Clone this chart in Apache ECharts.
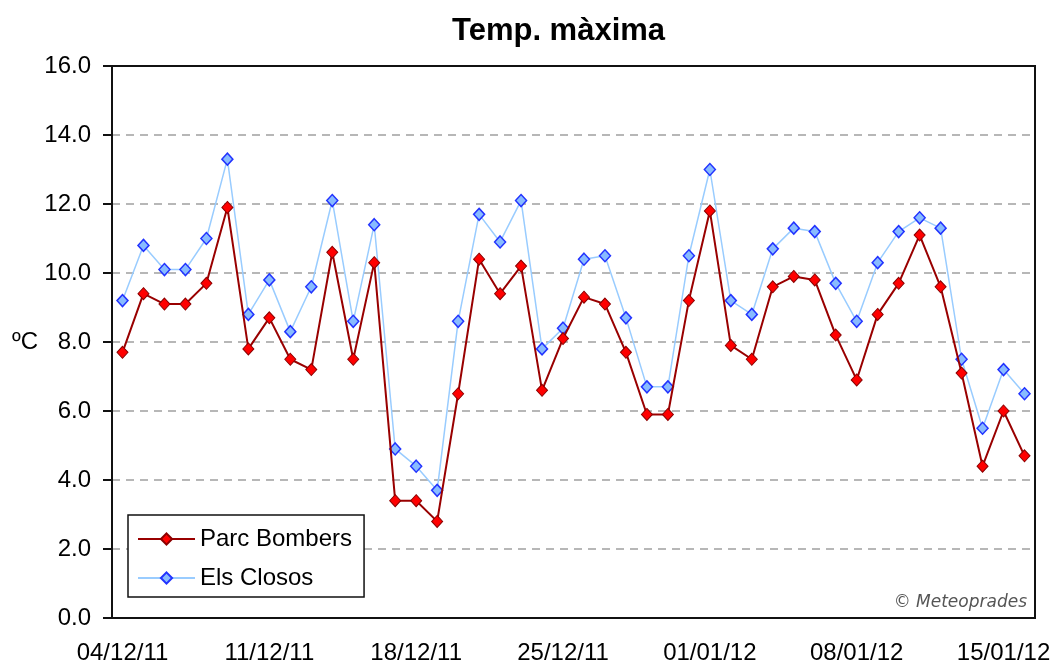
<!DOCTYPE html>
<html>
<head>
<meta charset="utf-8">
<script src="https://cdn.jsdelivr.net/npm/echarts@6/dist/echarts.min.js"></script>
<style>
  html, body { margin: 0; padding: 0; background: #fff; }
  #chart { width: 1055px; height: 665px; }
</style>
</head>
<body>
<div id="chart"></div>
<script>
// days from 04/12/11 to 16/01/12
const dates = [
    '04/12/11', '05/12/11', '06/12/11', '07/12/11', '08/12/11', '09/12/11', '10/12/11',
    '11/12/11', '12/12/11', '13/12/11', '14/12/11', '15/12/11', '16/12/11', '17/12/11',
    '18/12/11', '19/12/11', '20/12/11', '21/12/11', '22/12/11', '23/12/11', '24/12/11',
    '25/12/11', '26/12/11', '27/12/11', '28/12/11', '29/12/11', '30/12/11', '31/12/11',
    '01/01/12', '02/01/12', '03/01/12', '04/01/12', '05/01/12', '06/01/12', '07/01/12',
    '08/01/12', '09/01/12', '10/01/12', '11/01/12', '12/01/12', '13/01/12', '14/01/12',
    '15/01/12', '16/01/12'
];

const parcBombers = [
    7.7, 9.4, 9.1, 9.1, 9.7, 11.9, 7.8, 8.7, 7.5, 7.2, 10.6, 7.5, 10.3, 3.4,
    3.4, 2.8, 6.5, 10.4, 9.4, 10.2, 6.6, 8.1, 9.3, 9.1, 7.7, 5.9, 5.9, 9.2,
    11.8, 7.9, 7.5, 9.6, 9.9, 9.8, 8.2, 6.9, 8.8, 9.7, 11.1, 9.6, 7.1, 4.4,
    6.0, 4.7
];

const elsClosos = [
    9.2, 10.8, 10.1, 10.1, 11.0, 13.3, 8.8, 9.8, 8.3, 9.6, 12.1, 8.6, 11.4, 4.9,
    4.4, 3.7, 8.6, 11.7, 10.9, 12.1, 7.8, 8.4, 10.4, 10.5, 8.7, 6.7, 6.7, 10.5,
    13.0, 9.2, 8.8, 10.7, 11.3, 11.2, 9.7, 8.6, 10.3, 11.2, 11.6, 11.3, 7.5, 5.5,
    7.2, 6.5
];

const yTicks = { min: 0, max: 16, step: 2 };

const font = '"Liberation Sans", Arial, sans-serif';
const chart = echarts.init(document.getElementById('chart'));

const option = {
    animation: false,
    backgroundColor: '#fff',
    title: {
        text: 'Temp. màxima',
        left: 452,
        top: 16,
        padding: 0,
        textStyle: { fontFamily: font, fontSize: 31, fontWeight: 'bold', color: '#000' }
    },
    grid: {
        left: 112,
        right: 20,
        top: 66,
        bottom: 47,
        show: true,
        borderColor: '#111',
        borderWidth: 2,
        backgroundColor: '#fff'
    },
    legend: {
        orient: 'vertical',
        left: 128,
        top: 515,
        padding: [10, 12, 5, 9],
        itemGap: 11,
        itemWidth: 57,
        itemHeight: 14,
        borderColor: '#111',
        borderWidth: 1.5,
        backgroundColor: '#fff',
        textStyle: { fontFamily: font, fontSize: 24, lineHeight: 28, color: '#000' },
        data: ['Parc Bombers', 'Els Closos']
    },
    xAxis: {
        type: 'category',
        data: dates,
        boundaryGap: true,
        axisLine: { lineStyle: { color: '#111', width: 2 } },
        axisTick: { interval: 6, length: 8, alignWithLabel: false, lineStyle: { color: '#111', width: 2 } },
        axisLabel: { interval: 6, margin: 23, fontFamily: font, fontSize: 24, color: '#000' },
        splitLine: { show: false }
    },
    yAxis: {
        type: 'value',
        min: yTicks.min,
        max: yTicks.max,
        interval: yTicks.step,
        name: 'ºC',
        nameLocation: 'middle',
        nameRotate: 0,
        nameGap: 87,
        nameTextStyle: { fontFamily: font, fontSize: 24, color: '#000', align: 'center' },
        axisLine: { show: true, lineStyle: { color: '#111', width: 2 } },
        axisTick: { show: true, length: 9, lineStyle: { color: '#111', width: 2 } },
        axisLabel: {
            margin: 21,
            fontFamily: font,
            fontSize: 24,
            color: '#000',
            formatter: v => v.toFixed(1)
        },
        splitLine: {
            showMinLine: false,
            showMaxLine: false,
            lineStyle: { color: '#a0a0a0', width: 1.5, type: [8, 6] }
        }
    },
    graphic: [{
        type: 'text',
        x: 1027,
        y: 603,
        style: {
            text: '© Meteoprades',
            align: 'right',
            verticalAlign: 'middle',
            font: 'italic 17px "DejaVu Sans", Verdana, sans-serif',
            fill: '#555'
        }
    }],
    series: [
        {
            name: 'Parc Bombers',
            type: 'line',
            data: parcBombers,
            symbol: 'diamond',
            symbolSize: [11, 12],
            lineStyle: { color: '#990000', width: 2 },
            itemStyle: { color: '#ff0000', borderColor: '#8b0000', borderWidth: 1 },
            z: 3
        },
        {
            name: 'Els Closos',
            type: 'line',
            data: elsClosos,
            symbol: 'diamond',
            symbolSize: [11, 12],
            lineStyle: { color: '#99ccff', width: 1.5 },
            itemStyle: { color: '#88bbff', borderColor: '#2233ff', borderWidth: 1.5 },
            z: 2
        }
    ]
};

chart.setOption(option);
window.addEventListener('resize', chart.resize);
</script>
</body>
</html>
